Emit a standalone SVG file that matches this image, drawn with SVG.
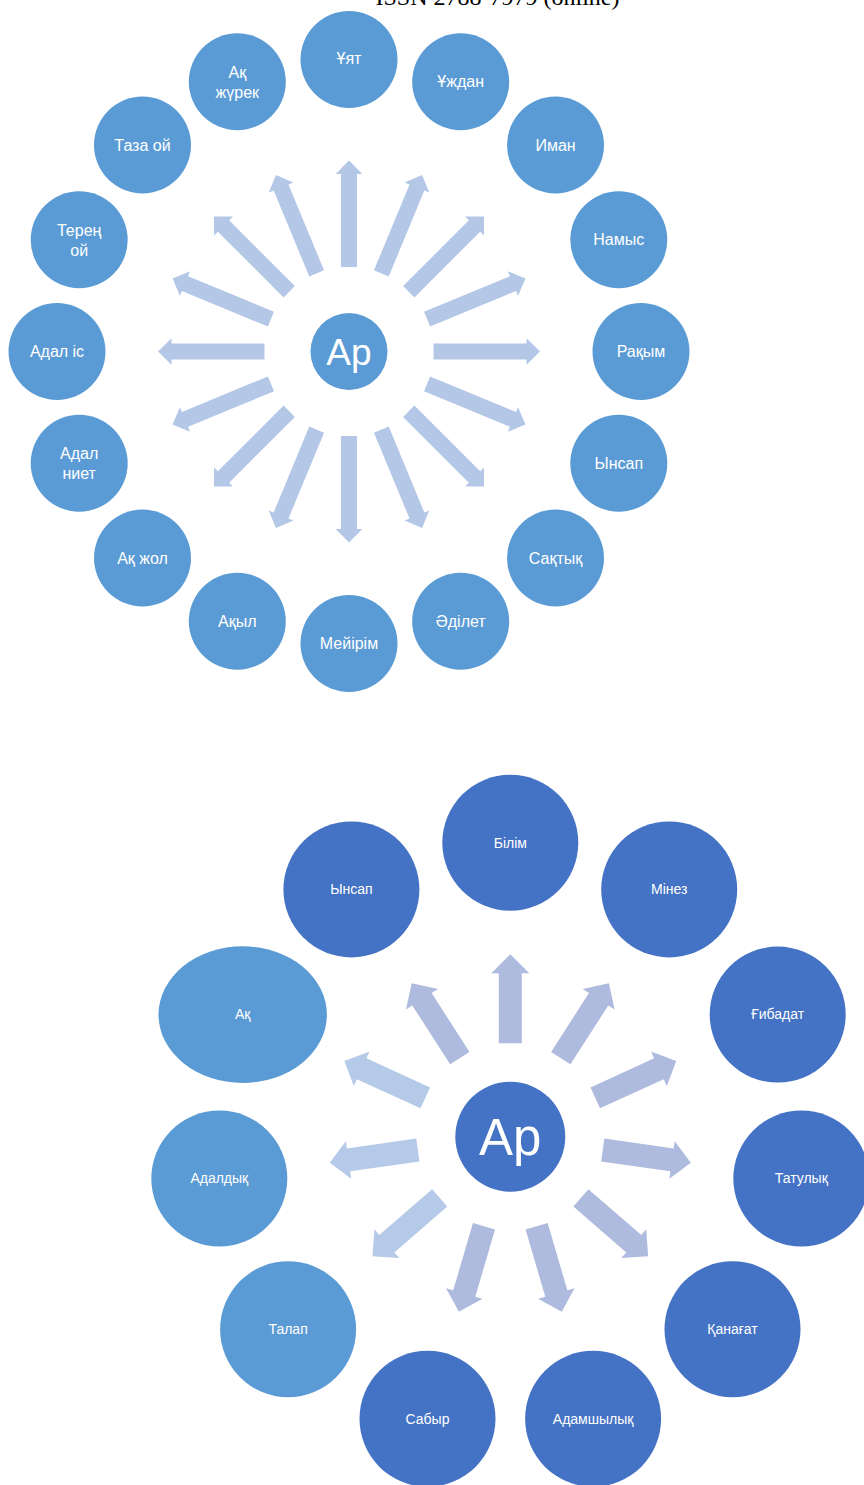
<svg xmlns="http://www.w3.org/2000/svg" xmlns:xlink="http://www.w3.org/1999/xlink" width="864" height="1485" viewBox="0 0 864 1485">
<style>
.lbl{fill:#ffffff;font-family:"Liberation Sans","Noto Sans",sans-serif;text-anchor:middle}
.t{font-size:16px}
.b{font-size:14px}
.light{fill:#5B9BD5}
.dark{fill:#4472C4}
.arT{fill:#B4C7E7}
.arB{fill:#AFBBDE}
.arL{fill:#B5C9E8}
</style>
<defs>
<path id="arrowTop" d="M -8,-84.5 L 8,-84.5 L 8,-177.5 L 13.3,-177.5 L 0,-191 L -13.3,-177.5 L -8,-177.5 Z"/>
<path id="arrowBot" d="M -11.5,-93.4 L 11.5,-93.4 L 11.5,-163.4 L 19,-163.4 L 0,-182.4 L -19,-163.4 L -11.5,-163.4 Z"/>
</defs>
<rect width="864" height="1485" fill="#ffffff"/>
<text x="497.5" y="4.5" font-family="Liberation Serif, serif" font-size="24" fill="#000" text-anchor="middle">ISSN 2788-7979 (online)</text>

<g id="connectors-top" class="arT" transform="translate(349,351.5)">
<use xlink:href="#arrowTop" transform="rotate(0)"/>
<use xlink:href="#arrowTop" transform="rotate(22.5)"/>
<use xlink:href="#arrowTop" transform="rotate(45)"/>
<use xlink:href="#arrowTop" transform="rotate(67.5)"/>
<use xlink:href="#arrowTop" transform="rotate(90)"/>
<use xlink:href="#arrowTop" transform="rotate(112.5)"/>
<use xlink:href="#arrowTop" transform="rotate(135)"/>
<use xlink:href="#arrowTop" transform="rotate(157.5)"/>
<use xlink:href="#arrowTop" transform="rotate(180)"/>
<use xlink:href="#arrowTop" transform="rotate(202.5)"/>
<use xlink:href="#arrowTop" transform="rotate(225)"/>
<use xlink:href="#arrowTop" transform="rotate(247.5)"/>
<use xlink:href="#arrowTop" transform="rotate(270)"/>
<use xlink:href="#arrowTop" transform="rotate(292.5)"/>
<use xlink:href="#arrowTop" transform="rotate(315)"/>
<use xlink:href="#arrowTop" transform="rotate(337.5)"/>
</g>

<g id="top-center"><circle class="light" cx="349" cy="351.5" r="38.5"/><text class="lbl" x="349" y="364.5" font-size="37">Ар</text></g>
<g id="t-uyat"><circle class="light" cx="349" cy="59.5" r="48.5"/><text class="lbl t" x="349" y="64">Ұят</text></g>
<g id="t-uzhdan"><circle class="light" cx="460.7" cy="81.7" r="48.5"/><text class="lbl t" x="460.7" y="87">Ұждан</text></g>
<g id="t-iman"><circle class="light" cx="555.5" cy="145" r="48.5"/><text class="lbl t" x="555.5" y="150.5">Иман</text></g>
<g id="t-namys"><circle class="light" cx="618.8" cy="239.8" r="48.5"/><text class="lbl t" x="618.8" y="245.3">Намыс</text></g>
<g id="t-rakym"><circle class="light" cx="641" cy="351.5" r="48.5"/><text class="lbl t" x="641" y="357">Рақым</text></g>
<g id="t-ynsap"><circle class="light" cx="618.8" cy="463.2" r="48.5"/><text class="lbl t" x="618.8" y="468.7">Ынсап</text></g>
<g id="t-saktyk"><circle class="light" cx="555.5" cy="558" r="48.5"/><text class="lbl t" x="555.5" y="563.5">Сақтық</text></g>
<g id="t-adilet"><circle class="light" cx="460.7" cy="621.3" r="48.5"/><text class="lbl t" x="460.7" y="626.8">Әділет</text></g>
<g id="t-meyirim"><circle class="light" cx="349" cy="643.5" r="48.5"/><text class="lbl t" x="349" y="649">Мейірім</text></g>
<g id="t-akyl"><circle class="light" cx="237.3" cy="621.3" r="48.5"/><text class="lbl t" x="237.3" y="626.8">Ақыл</text></g>
<g id="t-akzhol"><circle class="light" cx="142.5" cy="558" r="48.5"/><text class="lbl t" x="142.5" y="563.5">Ақ жол</text></g>
<g id="t-adalniet"><circle class="light" cx="79.2" cy="463.2" r="48.5"/><text class="lbl t" x="79.2" y="459">Адал</text><text class="lbl t" x="79.2" y="479">ниет</text></g>
<g id="t-adalis"><circle class="light" cx="57" cy="351.5" r="48.5"/><text class="lbl t" x="57" y="357">Адал іс</text></g>
<g id="t-terenoy"><circle class="light" cx="79.2" cy="239.8" r="48.5"/><text class="lbl t" x="79.2" y="235.6">Терең</text><text class="lbl t" x="79.2" y="255.6">ой</text></g>
<g id="t-tazaoy"><circle class="light" cx="142.5" cy="145" r="48.5"/><text class="lbl t" x="142.5" y="150.5">Таза ой</text></g>
<g id="t-akzhurek"><circle class="light" cx="237.3" cy="81.7" r="48.5"/><text class="lbl t" x="237.3" y="77.5">Ақ</text><text class="lbl t" x="237.3" y="97.5">жүрек</text></g>

<g id="connectors-bottom" transform="translate(510.3,1136.7)">
<use class="arB" xlink:href="#arrowBot" transform="rotate(0)"/>
<use class="arB" xlink:href="#arrowBot" transform="rotate(32.727)"/>
<use class="arB" xlink:href="#arrowBot" transform="rotate(65.455)"/>
<use class="arB" xlink:href="#arrowBot" transform="rotate(98.182)"/>
<use class="arB" xlink:href="#arrowBot" transform="rotate(130.909)"/>
<use class="arB" xlink:href="#arrowBot" transform="rotate(163.636)"/>
<use class="arB" xlink:href="#arrowBot" transform="rotate(196.364)"/>
<use class="arL" xlink:href="#arrowBot" transform="rotate(229.091)"/>
<use class="arL" xlink:href="#arrowBot" transform="rotate(261.818)"/>
<use class="arL" xlink:href="#arrowBot" transform="rotate(294.545)"/>
<use class="arB" xlink:href="#arrowBot" transform="rotate(327.273)"/>
</g>

<g id="bottom-center"><circle class="dark" cx="510.3" cy="1136.7" r="55"/><text class="lbl" x="510.3" y="1155" font-size="51">Ар</text></g>
<g id="b-bilim"><circle class="dark" cx="510.3" cy="842.7" r="68"/><text class="lbl b" x="510.3" y="847.5">Білім</text></g>
<g id="b-minez"><circle class="dark" cx="669.2" cy="889.4" r="68"/><text class="lbl b" x="669.2" y="894.2">Мінез</text></g>
<g id="b-gibadat"><circle class="dark" cx="777.7" cy="1014.6" r="68"/><text class="lbl b" x="777.7" y="1019.4">Ғибадат</text></g>
<g id="b-tatulyk"><circle class="dark" cx="801.3" cy="1178.5" r="68"/><text class="lbl b" x="801.3" y="1183.3">Татулық</text></g>
<g id="b-kanagat"><circle class="dark" cx="732.5" cy="1329.2" r="68"/><text class="lbl b" x="732.5" y="1334">Қанағат</text></g>
<g id="b-adamshylyk"><circle class="dark" cx="593.1" cy="1418.8" r="68"/><text class="lbl b" x="593.1" y="1423.6">Адамшылық</text></g>
<g id="b-sabyr"><circle class="dark" cx="427.5" cy="1418.8" r="68"/><text class="lbl b" x="427.5" y="1423.6">Сабыр</text></g>
<g id="b-talap"><circle class="light" cx="288.1" cy="1329.2" r="68"/><text class="lbl b" x="288.1" y="1334">Талап</text></g>
<g id="b-adaldyk"><circle class="light" cx="219.3" cy="1178.5" r="68"/><text class="lbl b" x="219.3" y="1183.3">Адалдық</text></g>
<g id="b-ak"><ellipse class="light" cx="242.7" cy="1014.6" rx="84.2" ry="68.3"/><text class="lbl b" x="242.7" y="1019.4">Ақ</text></g>
<g id="b-ynsap"><circle class="dark" cx="351.4" cy="889.4" r="68"/><text class="lbl b" x="351.4" y="894.2">Ынсап</text></g>
</svg>
